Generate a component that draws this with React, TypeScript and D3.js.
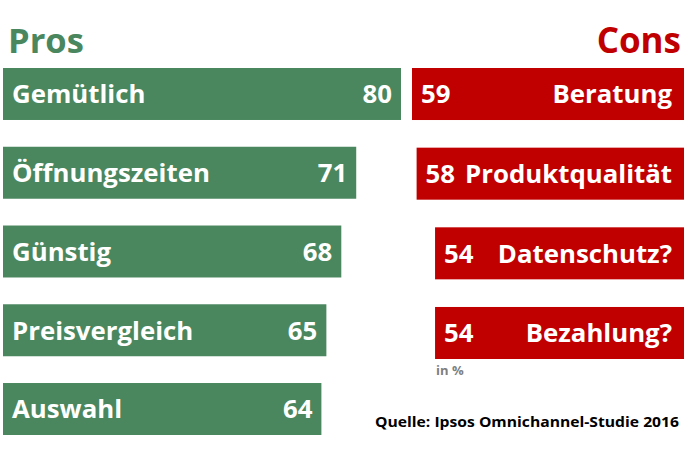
import React from "react";
import * as d3 from "d3";

const prosLabels = ["Gemütlich", "Öffnungszeiten", "Günstig", "Preisvergleich", "Auswahl"];
const prosValues = [80, 71, 68, 65, 64];
const consLabels = ["Beratung", "Produktqualität", "Datenschutz?", "Bezahlung?"];
const consValues = [59, 58, 54, 54];

const W = 684;
const H = 451;
const GREEN = "#4A875E";
const RED = "#C00000";
const FONT = "'Open Sans', 'DejaVu Sans', sans-serif";

export default function App() {
  const xPro = d3.scaleLinear().domain([0, 80]).range([3, 401]);
  const yPro = d3.scaleBand<string>().domain(prosLabels).range([68, 435]).paddingInner(0.34).paddingOuter(0);
  const xCon = d3.scaleLinear().domain([0, 59]).range([684, 412]);
  const yCon = d3.scaleBand<string>().domain(consLabels).range([68, 359]).paddingInner(0.347).paddingOuter(0);
  const fs = 25.8;
  const capOff = 9.4;

  return (
    <svg width={W} height={H} style={{ position: "absolute", left: 0, top: 0, background: "#fff" }} fontFamily={FONT}>
      <rect x={0} y={0} width={W} height={H} fill="#fff" />
      <text x={8} y={53} fontSize={34.5} fontWeight={700} fill={GREEN}>Pros</text>
      <text x={681} y={53} fontSize={35} fontWeight={700} fill={RED} textAnchor="end">Cons</text>

      {prosLabels.map((c, i) => {
        const y = yPro(c)!;
        const bw = yPro.bandwidth();
        const x1 = xPro(prosValues[i]);
        return (
          <g key={c}>
            <rect x={xPro(0)} y={y} width={x1 - xPro(0)} height={bw} fill={GREEN} />
            <text x={12} y={y + bw / 2 + capOff} fontSize={fs} fontWeight={700} fill="#fff">{c}</text>
            <text x={x1 - 9} y={y + bw / 2 + capOff} fontSize={fs} fontWeight={700} fill="#fff" textAnchor="end">{prosValues[i]}</text>
          </g>
        );
      })}

      {consLabels.map((c, i) => {
        const y = yCon(c)!;
        const bw = yCon.bandwidth();
        const x0 = xCon(consValues[i]);
        return (
          <g key={c}>
            <rect x={x0} y={y} width={xCon(0) - x0} height={bw} fill={RED} />
            <text x={x0 + 9} y={y + bw / 2 + capOff} fontSize={fs} fontWeight={700} fill="#fff">{consValues[i]}</text>
            <text x={672} y={y + bw / 2 + capOff} fontSize={fs} fontWeight={700} fill="#fff" textAnchor="end">{c}</text>
          </g>
        );
      })}

      <text x={436} y={375} fontSize={13} fontWeight={700} fill="#7F7F7F">in %</text>
      <text x={679} y={427} fontSize={15} fontWeight={700} fill="#000" textAnchor="end" textLength={304} lengthAdjust="spacingAndGlyphs">Quelle: Ipsos Omnichannel-Studie 2016</text>
    </svg>
  );
}
